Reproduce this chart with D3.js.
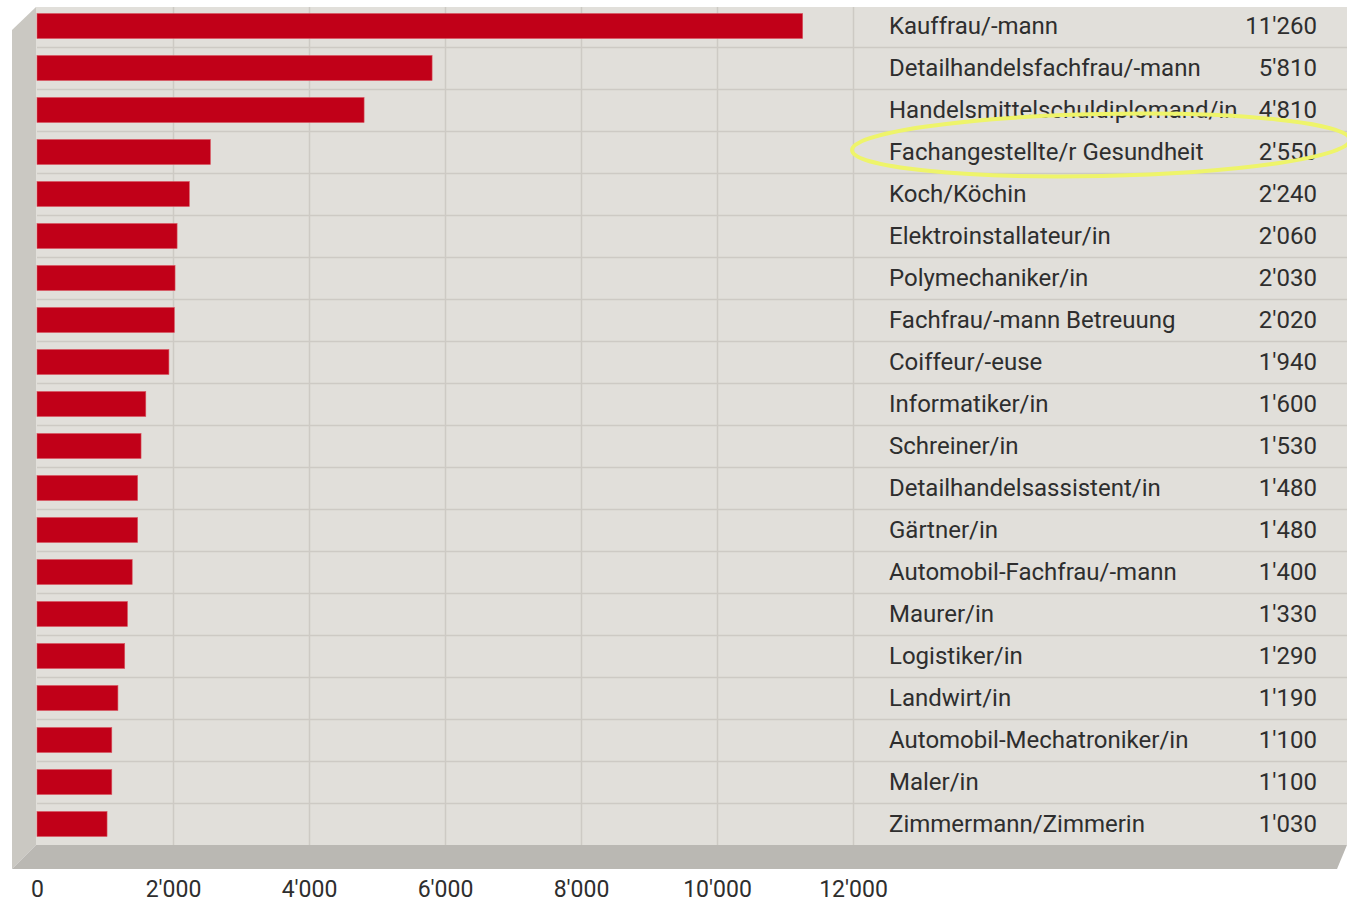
<!DOCTYPE html>
<html>
<head>
<meta charset="utf-8">
<script src="https://cdn.jsdelivr.net/npm/d3@7"></script>
<style>
  body { margin: 0; background: #fff; }
  svg { display: block; font-family: Roboto, "Noto Sans", sans-serif; }
</style>
</head>
<body>
<svg id="chart"></svg>
<script>
// Lehrberufe, Anzahl Lernende
const berufe = [
  "Kauffrau/-mann", "Detailhandelsfachfrau/-mann", "Handelsmittelschuldiplomand/in",
  "Fachangestellte/r Gesundheit", "Koch/Köchin", "Elektroinstallateur/in",
  "Polymechaniker/in", "Fachfrau/-mann Betreuung", "Coiffeur/-euse",
  "Informatiker/in", "Schreiner/in", "Detailhandelsassistent/in", "Gärtner/in",
  "Automobil-Fachfrau/-mann", "Maurer/in", "Logistiker/in", "Landwirt/in",
  "Automobil-Mechatroniker/in", "Maler/in", "Zimmermann/Zimmerin"
];
const anzahl = [
  11260, 5810, 4810, 2550, 2240, 2060, 2030, 2020, 1940, 1600,
  1530, 1480, 1480, 1400, 1330, 1290, 1190, 1100, 1100, 1030
];
const xTicks = [0, 2000, 4000, 6000, 8000, 10000, 12000];
const markiert = "Fachangestellte/r Gesundheit";

const width = 1347, height = 904;
const marginLeft = 37, plotRight = 853, plotTop = 5, plotBottom = 845;
const depth = 24; // tiefe der 3d-wand
const fontSize = 24;

const fmt = d3.formatLocale({decimal: ".", thousands: "'", grouping: [3], currency: ["", ""]}).format(",");

const svg = d3.select("#chart")
  .attr("width", width)
  .attr("height", height)
  .attr("viewBox", [0, 0, width, height]);

const x = d3.scaleLinear().domain([0, 12000]).range([marginLeft, plotRight]);
const y = d3.scaleBand().domain(berufe).range([plotTop, plotBottom]).padding(0);

// rückwand, seitenwand, boden
svg.append("rect")
  .attr("x", marginLeft - 1).attr("y", 7)
  .attr("width", width - marginLeft + 1).attr("height", plotBottom - 7)
  .attr("fill", "#e1dfda");

svg.append("path")
  .attr("d", `M${marginLeft - 1},7 L${marginLeft - 1 - depth},30 L${marginLeft - 1 - depth},${plotBottom + depth} L${marginLeft - 1},${plotBottom} Z`)
  .attr("fill", "#cac8c2");

svg.append("path")
  .attr("d", `M${marginLeft - 1},${plotBottom} L${width},${plotBottom} L${width - 10},${plotBottom + depth} L${marginLeft - 1 - depth},${plotBottom + depth} Z`)
  .attr("fill", "#bab8b3");

// zeilenlinien
svg.append("g")
  .selectAll("line")
  .data(berufe.slice(1))
  .join("line")
  .attr("x1", marginLeft).attr("x2", width)
  .attr("y1", d => y(d) + 0.5).attr("y2", d => y(d) + 0.5)
  .attr("stroke", "#cdcac4")
  .attr("stroke-width", 1.5);

// vertikale gitterlinien
svg.append("g")
  .selectAll("line")
  .data(xTicks.slice(1))
  .join("line")
  .attr("x1", d => x(d) + 0.5).attr("x2", d => x(d) + 0.5)
  .attr("y1", 7).attr("y2", plotBottom)
  .attr("stroke", "#cdcac4")
  .attr("stroke-width", 1.5);

// balken
const barH = 25;
svg.append("g")
  .selectAll("rect")
  .data(anzahl)
  .join("rect")
  .attr("x", x(0))
  .attr("y", (d, i) => y(berufe[i]) + (y.bandwidth() - barH) / 2)
  .attr("width", d => x(d) - x(0))
  .attr("height", barH)
  .attr("fill", "#c10018")
  .attr("stroke", "#d9545f")
  .attr("stroke-width", 0.6);

// beschriftung rechts
const labels = svg.append("g")
  .attr("font-size", fontSize)
  .attr("fill", "#2e2e2e");

labels.selectAll("text.name")
  .data(berufe)
  .join("text")
  .attr("class", "name")
  .attr("x", 889)
  .attr("y", d => y(d) + y.bandwidth() / 2)
  .attr("dy", "0.32em")
  .text(d => d);

labels.selectAll("text.wert")
  .data(anzahl)
  .join("text")
  .attr("class", "wert")
  .attr("x", 1317)
  .attr("y", (d, i) => y(berufe[i]) + y.bandwidth() / 2)
  .attr("dy", "0.32em")
  .attr("text-anchor", "end")
  .text(d => fmt(d));

// x-achse (grundlinie knapp über dem unteren rand)
const xAxis = d3.axisBottom(x).tickValues(xTicks).tickFormat(fmt).tickSize(0).tickPadding(0);
svg.append("g")
  .attr("transform", "translate(0,897)")
  .call(xAxis)
  .call(g => g.select(".domain").remove())
  .call(g => g.selectAll("text")
    .attr("font-size", 23)
    .attr("font-family", "Roboto, 'Noto Sans', sans-serif")
    .attr("fill", "#2e2e2e")
    .attr("y", 0)
    .attr("dy", 0));

// gelbe markierung
const yM = y(markiert) + y.bandwidth() / 2;
svg.append("ellipse")
  .attr("cx", 1101).attr("cy", yM - 7)
  .attr("rx", 249).attr("ry", 31)
  .attr("transform", `rotate(-1.2,1101,${yM - 7})`)
  .attr("fill", "none")
  .attr("stroke", "#eef46a")
  .attr("stroke-width", 4);
</script>
</body>
</html>
